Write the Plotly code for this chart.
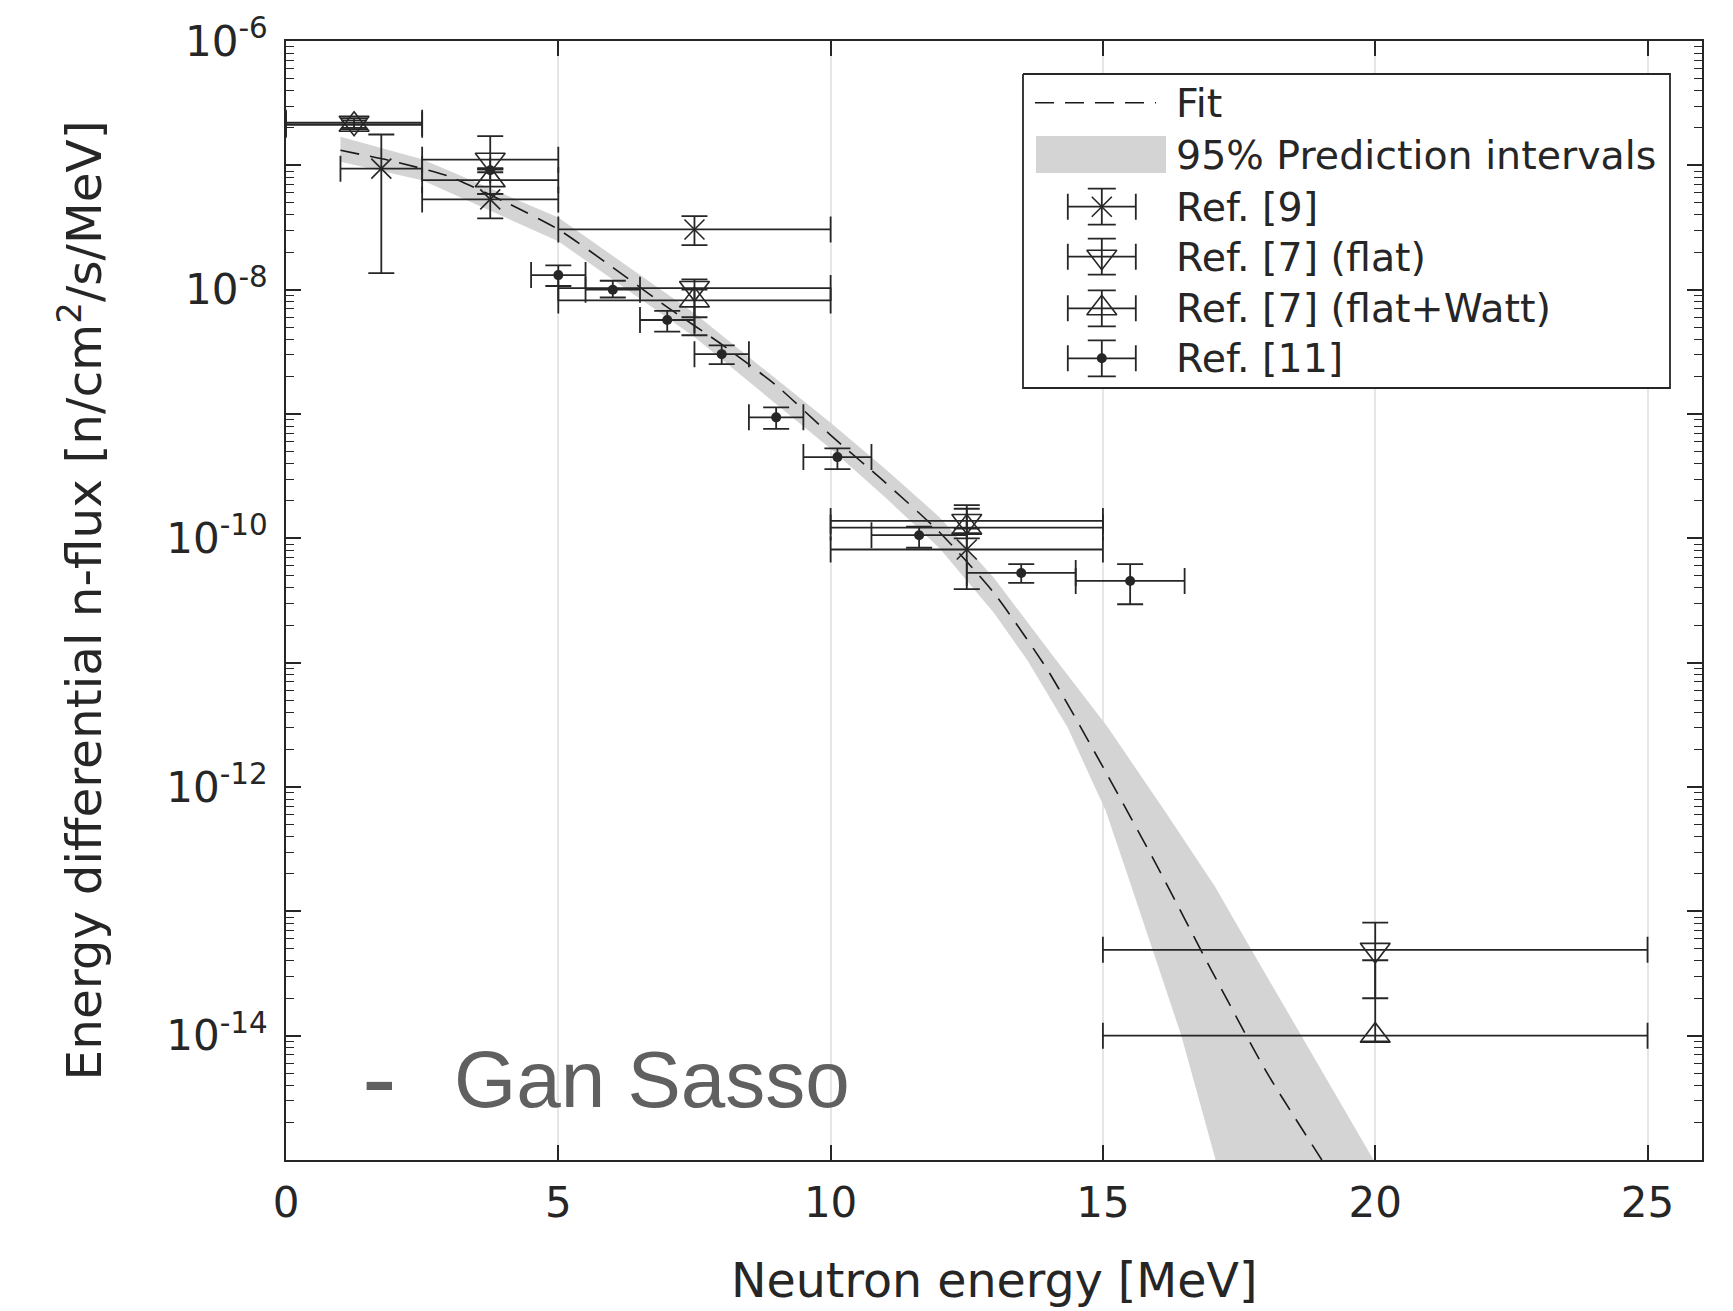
import plotly.graph_objects as go

# ---------------- data ----------------
# Fit curve (dashed) read along the energy axis
fit_e = [1.0, 2.0, 3.0, 4.0, 5.0, 6.0, 7.0, 8.0, 9.0, 10.0, 11.0, 12.0, 13.0,
         14.0, 15.0, 16.0, 17.0, 18.0, 19.02]
fit_flux = [1.32e-7, 1.07e-7, 8.13e-8, 5.13e-8, 3.05e-8, 1.51e-8, 7.24e-9, 3.63e-9,
            1.70e-9, 6.76e-10, 2.82e-10, 1.12e-10, 3.63e-11, 8.51e-12, 1.45e-12,
            2.29e-13, 3.31e-14, 5.13e-15, 1.0e-15]

# 95% prediction interval: upper and lower edges
band_up_e = [1.0, 2.5, 5.0, 7.5, 10.0, 11.0, 12.0, 13.0, 14.14, 15.09, 16.13, 17.06,
             17.41, 18.64, 19.97]
band_up_flux = [1.70e-7, 1.12e-7, 3.80e-8, 6.46e-9, 8.51e-10, 3.63e-10, 1.48e-10,
                4.79e-11, 1.05e-11, 3.02e-12, 6.46e-13, 1.58e-13, 8.51e-14, 1.0e-14, 1.0e-15]
band_lo_e = [1.0, 2.5, 5.0, 7.5, 10.0, 11.0, 12.0, 13.0, 13.61, 14.35, 15.05, 15.5,
             16.44, 17.07]
band_lo_flux = [1.07e-7, 7.59e-8, 2.45e-8, 4.17e-9, 5.25e-10, 2.14e-10, 8.32e-11,
                2.51e-11, 1.05e-11, 3.02e-12, 6.46e-13, 1.70e-13, 1.0e-14, 1.0e-15]

# Ref. [9]
r9_e = [1.75, 3.75, 7.5, 12.5]
r9_e_lo = [1.0, 2.5, 5.0, 10.0]
r9_e_hi = [2.5, 5.0, 10.0, 15.0]
r9_flux = [9.4e-8, 5.32e-8, 3.05e-8, 8.13e-11]
r9_flux_lo = [1.36e-8, 3.74e-8, 2.28e-8, 3.9e-11]
r9_flux_hi = [1.77e-7, 5.9e-8, 3.9e-8, 1.1e-10]

# Ref. [7] (flat)
r7f_e = [1.25, 3.75, 7.5, 12.5, 20.0]
r7f_e_lo = [0.0, 2.5, 5.0, 10.0, 15.0]
r7f_e_hi = [2.5, 5.0, 10.0, 15.0, 25.0]
r7f_flux = [2.2e-7, 1.11e-7, 1.03e-8, 1.38e-10, 4.9e-14]
r7f_flux_lo = [2.0e-7, 9.3e-8, 6.0e-9, 1.2e-10, 2.0e-14]
r7f_flux_hi = [2.4e-7, 1.72e-7, 1.21e-8, 1.85e-10, 8.1e-14]

# Ref. [7] (flat+Watt)
r7w_e = [1.25, 3.75, 7.5, 12.5, 20.0]
r7w_e_lo = [0.0, 2.5, 5.0, 10.0, 15.0]
r7w_e_hi = [2.5, 5.0, 10.0, 15.0, 25.0]
r7w_flux = [2.12e-7, 7.6e-8, 8.2e-9, 1.22e-10, 1.0e-14]
r7w_flux_lo = [1.95e-7, 5.9e-8, 4.3e-9, 1.0e-10, 0.9e-14]
r7w_flux_hi = [2.3e-7, 9.3e-8, 1.0e-8, 1.73e-10, 4.04e-14]

# Ref. [11]
r11_e = [3.75, 5.0, 6.0, 7.0, 8.0, 9.0, 10.125, 11.625, 13.5, 15.5]
r11_e_lo = [3.75, 4.5, 5.5, 6.5, 7.5, 8.5, 9.5, 10.75, 12.5, 14.5]
r11_e_hi = [3.75, 5.5, 6.5, 7.5, 8.5, 9.5, 10.75, 12.5, 14.5, 16.5]
r11_flux = [9.14e-8, 1.31e-8, 1.0e-8, 5.7e-9, 3.03e-9, 9.4e-10, 4.5e-10, 1.06e-10,
            5.27e-11, 4.54e-11]
r11_flux_lo = [8.8e-8, 1.07e-8, 8.65e-9, 4.6e-9, 2.52e-9, 7.6e-10, 3.6e-10, 8.4e-11,
               4.38e-11, 2.95e-11]
r11_flux_hi = [9.5e-8, 1.57e-8, 1.18e-8, 6.75e-9, 3.57e-9, 1.13e-9, 5.3e-10, 1.24e-10,
               6.2e-11, 6.2e-11]

x_ticks = [0, 5, 10, 15, 20, 25]
y_label_exponents = [-14, -12, -10, -8, -6]
y_plain_exponents = [-15, -13, -11, -9, -7]
legend_labels = ["Fit", "95% Prediction intervals", "Ref. [9]", "Ref. [7] (flat)",
                 "Ref. [7] (flat+Watt)", "Ref. [11]"]

# ---------------- style ----------------
INK = "#262626"
BAND = "rgb(212,212,212)"
DASH = "19px,11px"
FONT = "DejaVu Sans"

W, H = 1733, 1311
ML, MR, MT, MB = 286, 31, 41, 151
PW, PH = W - ML - MR, H - MT - MB

MARKERS = {
    "r9": dict(symbol="x-thin", size=20, color=INK, line=dict(color=INK, width=1.6)),
    "r7f": dict(symbol="triangle-down-open", size=26, color=INK, line=dict(color=INK, width=1.6)),
    "r7w": dict(symbol="triangle-up-open", size=26, color=INK, line=dict(color=INK, width=1.6)),
    "r11": dict(symbol="circle", size=10, color=INK, line=dict(color=INK, width=0)),
}


def err(center, lo, hi):
    return dict(type="data", symmetric=False,
                array=[h - c for c, h in zip(center, hi)],
                arrayminus=[c - l for c, l in zip(center, lo)],
                color=INK, thickness=1.8, width=13)


fig = go.Figure()

# prediction band
fig.add_trace(go.Scatter(
    x=band_up_e + band_lo_e[::-1], y=band_up_flux + band_lo_flux[::-1],
    fill="toself", fillcolor=BAND, mode="lines", line=dict(width=0, color=BAND),
    hoverinfo="skip"))

# fit
fig.add_trace(go.Scatter(
    x=fit_e, y=fit_flux, mode="lines",
    line=dict(color="#1a1a1a", width=1.6, dash=DASH, shape="spline", smoothing=0.6)))

# measurements
for key, e, elo, ehi, f, flo, fhi in [
    ("r9", r9_e, r9_e_lo, r9_e_hi, r9_flux, r9_flux_lo, r9_flux_hi),
    ("r7f", r7f_e, r7f_e_lo, r7f_e_hi, r7f_flux, r7f_flux_lo, r7f_flux_hi),
    ("r7w", r7w_e, r7w_e_lo, r7w_e_hi, r7w_flux, r7w_flux_lo, r7w_flux_hi),
    ("r11", r11_e, r11_e_lo, r11_e_hi, r11_flux, r11_flux_lo, r11_flux_hi),
]:
    fig.add_trace(go.Scatter(
        x=e, y=f, mode="markers", marker=MARKERS[key],
        error_x=err(e, elo, ehi), error_y=err(f, flo, fhi)))

# ---------------- legend box (overlay axes in pixel units) ----------------
def ox(px):
    return px - ML


def oy(py):
    return (H - MB) - py


box_l, box_r, box_t, box_b = 1023, 1670, 74, 388
fig.add_trace(go.Scatter(
    x=[ox(box_l), ox(box_r), ox(box_r), ox(box_l), ox(box_l)],
    y=[oy(box_t), oy(box_t), oy(box_b), oy(box_b), oy(box_t)],
    xaxis="x2", yaxis="y2", mode="lines", fill="toself", fillcolor="white",
    line=dict(color=INK, width=1.8), hoverinfo="skip"))

row_y = [102.7, 155.0, 206.7, 256.7, 308.3, 358.3]
sample_cx = 1101.8
# fit sample
fig.add_trace(go.Scatter(
    x=[ox(1035), ox(1156)], y=[oy(row_y[0])] * 2, xaxis="x2", yaxis="y2",
    mode="lines", line=dict(color="#1a1a1a", width=1.6, dash=DASH), hoverinfo="skip"))
# band sample
fig.add_trace(go.Scatter(
    x=[ox(1036), ox(1166), ox(1166), ox(1036), ox(1036)],
    y=[oy(136), oy(136), oy(173), oy(173), oy(136)],
    xaxis="x2", yaxis="y2", mode="lines", fill="toself", fillcolor=BAND,
    line=dict(width=0, color=BAND), hoverinfo="skip"))
# error-bar samples
for key, ry in zip(["r9", "r7f", "r7w", "r11"], row_y[2:]):
    fig.add_trace(go.Scatter(
        x=[ox(sample_cx)], y=[oy(ry)], xaxis="x2", yaxis="y2", mode="markers",
        marker=MARKERS[key],
        error_x=dict(type="data", array=[34], color=INK, thickness=1.8, width=13),
        error_y=dict(type="data", array=[18], color=INK, thickness=1.8, width=14),
        hoverinfo="skip"))

annotations = []
for label, ry in zip(legend_labels, row_y):
    annotations.append(dict(
        x=ox(1174), y=oy(ry), xref="x2", yref="y2", text=label, showarrow=False,
        xanchor="left", yanchor="middle", font=dict(family=FONT, size=39.5, color=INK)))

# axis titles
annotations.append(dict(
    x=0.5, y=(H - MB - 1280) / PH, xref="paper", yref="paper",
    text="Neutron energy [MeV]", showarrow=False, xanchor="center", yanchor="middle",
    font=dict(family=FONT, size=47.5, color=INK)))
annotations.append(dict(
    x=(80 - ML) / PW, y=0.5, xref="paper", yref="paper", textangle=-90,
    text="Energy differential n-flux [n/cm<sup>2</sup>/s/MeV]", showarrow=False,
    xanchor="center", yanchor="middle", font=dict(family=FONT, size=48.5, color=INK)))

# slide caption
annotations.append(dict(
    x=(379 - ML) / PW, y=(H - MB - 1078) / PH, xref="paper", yref="paper", text="-",
    showarrow=False, xanchor="center", yanchor="middle",
    font=dict(family="Liberation Sans", size=104, color="#606060")))
annotations.append(dict(
    x=(452 - ML) / PW, y=(H - MB - 1079) / PH, xref="paper", yref="paper",
    text="Gan Sasso", showarrow=False, xanchor="left", yanchor="middle",
    font=dict(family="Liberation Sans", size=80, color="#606060")))

y_tickvals = [10.0 ** p for p in y_label_exponents]
y_ticktext = [f"10<sup>{p}</sup>" for p in y_label_exponents]
y_plainvals = [10.0 ** p for p in y_plain_exponents]
y_minor = [k * 10.0 ** p for p in range(-15, -6) for k in range(2, 10)]

axis_common = dict(ticks="inside", ticklen=15, tickwidth=1.5, tickcolor=INK,
                   showline=True, linecolor=INK, linewidth=1.8, mirror="ticks",
                   zeroline=False)

fig.update_layout(
    width=W, height=H, margin=dict(l=ML, r=MR, t=MT, b=MB, autoexpand=False),
    paper_bgcolor="white", plot_bgcolor="white", showlegend=False,
    font=dict(family=FONT, color=INK),
    annotations=annotations,
    xaxis=dict(
        range=[0, 26], tickmode="array", tickvals=x_ticks,
        showgrid=True, gridcolor="#e6e6e6", gridwidth=1.5,
        tickfont=dict(family=FONT, size=42, color=INK), ticklabelstandoff=5,
        **axis_common),
    yaxis=dict(
        type="log", range=[-15, -6], tickmode="array", tickvals=y_tickvals,
        ticktext=y_ticktext,
        minor=dict(tickmode="array", tickvals=y_minor, ticks="inside", ticklen=8,
                   tickwidth=1.2, tickcolor=INK, showgrid=False),
        showgrid=False, tickfont=dict(family=FONT, size=42, color=INK),
        ticklabelstandoff=8, **axis_common),
    # unlabelled decade ticks between the labelled ones
    yaxis3=dict(
        type="log", range=[-15, -6], overlaying="y", anchor="x", side="left",
        tickmode="array", tickvals=y_plainvals, showticklabels=False,
        showgrid=False, **axis_common),
    xaxis2=dict(range=[0, PW], overlaying="x", anchor="y2", visible=False),
    yaxis2=dict(range=[0, PH], overlaying="y", anchor="x2", visible=False),
)

# an invisible trace keeps the extra decade-tick axis rendered
fig.add_trace(go.Scatter(x=[0], y=[1e-10], yaxis="y3", mode="markers",
                         marker=dict(opacity=0), hoverinfo="skip"))

fig.write_html("out.html")
